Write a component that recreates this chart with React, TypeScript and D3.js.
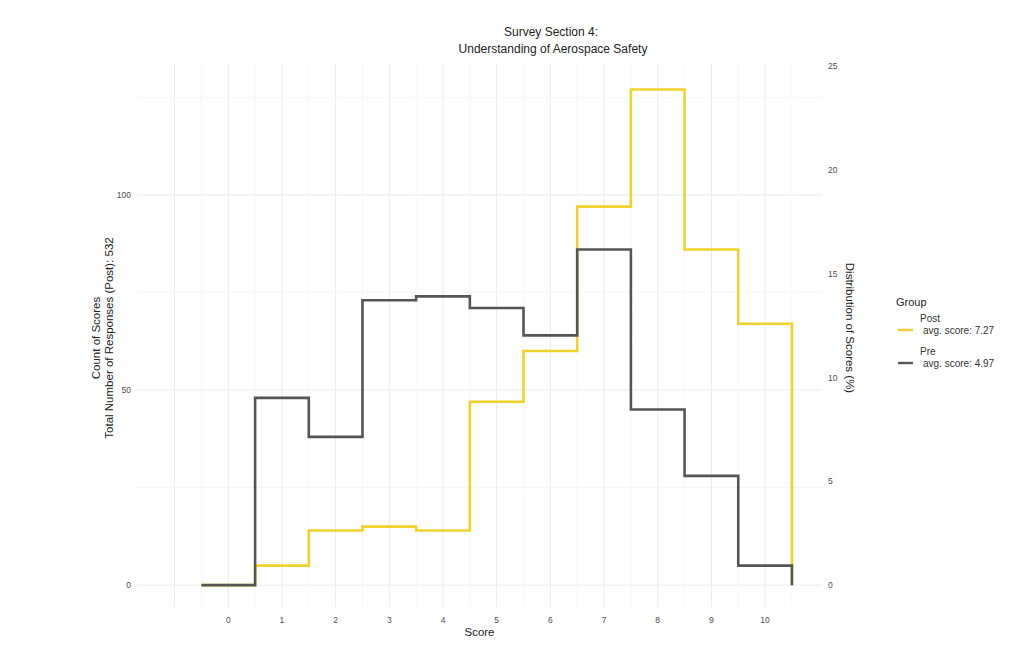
import React from "react";
import * as d3 from "d3";

// counts per score (0..10)
const scores = [0, 1, 2, 3, 4, 5, 6, 7, 8, 9, 10];
const postCounts = [0, 5, 14, 15, 14, 47, 60, 97, 127, 86, 67];
const preCounts = [0, 48, 38, 73, 74, 71, 64, 86, 45, 28, 5];
const totalPost = 532;
const leftTicks = [0, 50, 100];
const rightTicks = [0, 5, 10, 15, 20, 25];
const legendItems = [
  { name: "Post", label: "avg. score: 7.27", color: "#f2d22a" },
  { name: "Pre", label: "avg. score: 4.97", color: "#555555" },
];

const width = 1034;
const height = 669;
const font = "'Liberation Sans', Arial, sans-serif";

export default function App() {
  const x = d3.scaleLinear().domain([-1.7, 11.06]).range([137, 822]);
  const y = d3.scaleLinear().domain([-5.6, 133.8]).range([607, 63]);

  // step outline: each score's level spans score-0.5..score+0.5, closing at 0
  const stepLine = d3
    .line<[number, number]>()
    .x((d) => x(d[0]))
    .y((d) => y(d[1]))
    .curve(d3.curveStepAfter);

  const stepPoints = (counts: number[]): [number, number][] => [
    ...scores.map((s, i) => [s - 0.5, counts[i]] as [number, number]),
    [scores[scores.length - 1] + 0.5, 0],
  ];

  const vGrid = d3.range(-1, 10.51, 0.5);
  const hMajor = leftTicks;
  const hMinor = [25, 75, 125];
  const [x0, x1] = x.range();
  const [yb, yt] = y.range();

  return (
    <svg
      width={width}
      height={height}
      style={{ position: "absolute", left: 0, top: 0, background: "#fff" }}
      fontFamily={font}
    >
      {/* grid */}
      <g>
        {hMinor.map((v) => (
          <line key={"hm" + v} x1={x0} x2={x1} y1={y(v)} y2={y(v)} stroke="#f3f3f3" strokeWidth={0.7} />
        ))}
        {hMajor.map((v) => (
          <line key={"hM" + v} x1={x0} x2={x1} y1={y(v)} y2={y(v)} stroke="#ebebeb" strokeWidth={1} />
        ))}
        {vGrid.map((v) => (
          <line
            key={"v" + v}
            x1={x(v)}
            x2={x(v)}
            y1={yt}
            y2={yb}
            stroke={Number.isInteger(v) ? "#ebebeb" : "#f3f3f3"}
            strokeWidth={Number.isInteger(v) ? 1 : 0.7}
          />
        ))}
      </g>

      {/* series: post first, pre on top */}
      <path d={stepLine(stepPoints(postCounts)) || ""} fill="none" stroke={legendItems[0].color} strokeWidth={2.6} />
      <path d={stepLine(stepPoints(preCounts)) || ""} fill="none" stroke={legendItems[1].color} strokeWidth={2.6} />

      {/* left axis labels */}
      {leftTicks.map((v) => (
        <text key={"l" + v} x={131} y={y(v)} dy="0.35em" textAnchor="end" fontSize={8.5} fill="#4d4d4d">
          {v}
        </text>
      ))}
      {/* right axis (percent of post responses) */}
      {rightTicks.map((p) => (
        <text
          key={"r" + p}
          x={828}
          y={y((p * totalPost) / 100)}
          dy="0.35em"
          textAnchor="start"
          fontSize={8.5}
          fill="#4d4d4d"
        >
          {p}
        </text>
      ))}
      {/* x axis labels */}
      {scores.map((s) => (
        <text key={"x" + s} x={x(s)} y={620} dy="0.35em" textAnchor="middle" fontSize={8.5} fill="#4d4d4d">
          {s}
        </text>
      ))}

      {/* axis titles */}
      <text x={(x0 + x1) / 2} y={636} textAnchor="middle" fontSize={11.5} fill="#222">
        Score
      </text>
      <g transform="translate(100,338) rotate(-90)">
        <text x={0} y={0} textAnchor="middle" fontSize={11.5} fill="#222">
          Count of Scores
        </text>
        <text x={0} y={13} textAnchor="middle" fontSize={11.5} fill="#222">
          {`Total Number of Responses (Post): ${totalPost}`}
        </text>
      </g>
      <text
        transform="translate(846,328) rotate(90)"
        textAnchor="middle"
        fontSize={11.5}
        fill="#222"
      >
        Distribution of Scores (%)
      </text>

      {/* title */}
      <text x={551} y={36} textAnchor="middle" fontSize={12} fill="#222">
        Survey Section 4:
      </text>
      <text x={553} y={53} textAnchor="middle" fontSize={12} fill="#222">
        Understanding of Aerospace Safety
      </text>

      {/* legend */}
      <text x={896} y={306} fontSize={11} fill="#222">
        Group
      </text>
      {legendItems.map((item, i) => {
        const top = 318 + i * 33;
        return (
          <g key={item.name}>
            <text x={920} y={top + 4} fontSize={10} fill="#333">
              {item.name}
            </text>
            <text x={923} y={top + 16} fontSize={10} fill="#333">
              {item.label}
            </text>
            <line x1={898} x2={913} y1={top + 12} y2={top + 12} stroke={item.color} strokeWidth={2.4} />
          </g>
        );
      })}
    </svg>
  );
}
